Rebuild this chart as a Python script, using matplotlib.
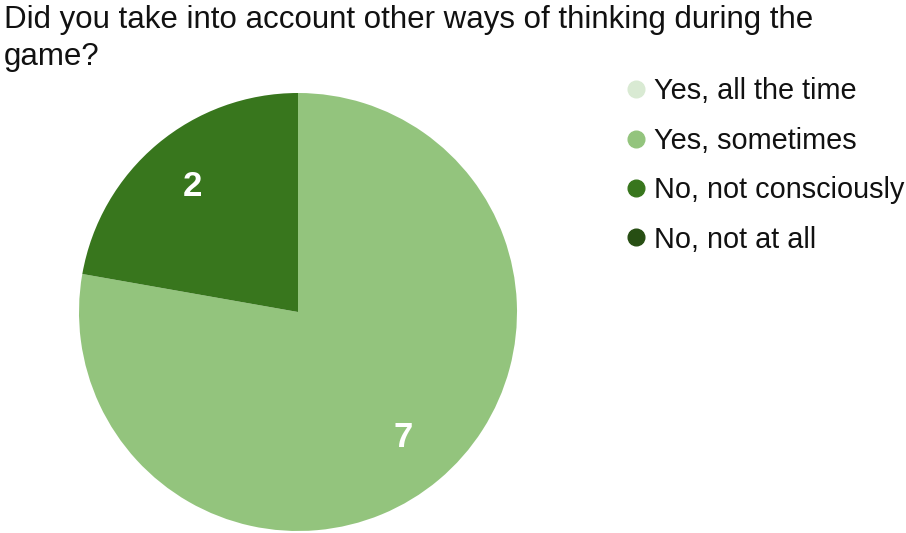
import matplotlib
matplotlib.use("Agg")
import matplotlib.pyplot as plt
from matplotlib.lines import Line2D
import numpy as np

plt.rcParams['font.family'] = ['Liberation Sans', 'DejaVu Sans']

title = "Did you take into account other ways of thinking during the\ngame?"
categories = ["Yes, all the time", "Yes, sometimes", "No, not consciously", "No, not at all"]
counts = [0, 7, 2, 0]
colors = ["#d9ead3", "#93c47d", "#38761d", "#274e13"]

W, H = 906, 533
fig = plt.figure(figsize=(W / 100, H / 100), dpi=100)

# pie axes: centre (298, 312) px, radius 219 px
cx, cy, r = 298, 312, 219
ax = fig.add_axes([(cx - r) / W, (H - cy - r) / H, 2 * r / W, 2 * r / H])

shown = [(c, v, col) for c, v, col in zip(categories, counts, colors) if v > 0]
wedges, _ = ax.pie([v for _, v, _ in shown], colors=[col for _, _, col in shown],
                   startangle=90, counterclock=False, radius=1.0,
                   wedgeprops=dict(linewidth=0))
for w, (_, v, _) in zip(wedges, shown):
    ang = np.deg2rad((w.theta1 + w.theta2) / 2)
    ax.text(0.75 * np.cos(ang), 0.75 * np.sin(ang), f"{v}", color="white",
            fontsize=25, fontweight="bold", ha="center", va="center")
ax.set_xlim(-1, 1)
ax.set_ylim(-1, 1)
ax.set_aspect("auto")
ax.axis("off")

fig.text(4 / W, 1 - 5 / H, title, fontsize=22.5, color="#111111", ha="left", va="top",
         linespacing=1.3)

handles = [Line2D([], [], marker="o", linestyle="none", markersize=12,
                  markerfacecolor=col, markeredgecolor=col) for col in colors]
fig.legend(handles, categories, loc="upper left", bbox_to_anchor=(611 / W, 1 - 63 / H),
           frameon=False, fontsize=20.8, labelspacing=0.74, handlelength=0.7,
           handletextpad=0.3, borderpad=0, labelcolor="#111111")

fig.savefig("out.png", dpi=100)
